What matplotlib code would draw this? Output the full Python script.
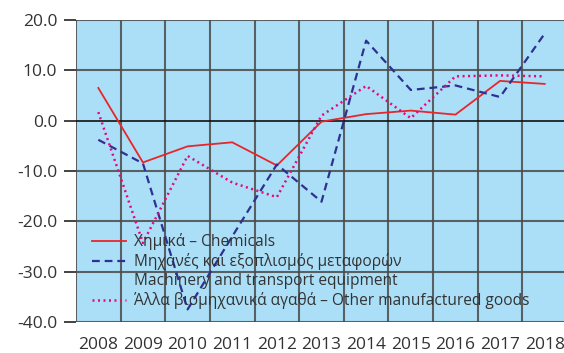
import matplotlib
matplotlib.use("Agg")
import matplotlib.pyplot as plt
from matplotlib.lines import Line2D

plt.rcParams['font.family'] = ['Open Sans', 'DejaVu Sans']

years = ['2008', '2009', '2010', '2011', '2012', '2013', '2014', '2015', '2016', '2017', '2018']
chemicals = [6.5, -8.3, -5.1, -4.3, -8.9, -0.2, 1.3, 2.0, 1.2, 7.9, 7.3]
machinery = [-3.8, -8.5, -37.5, -23.0, -8.7, -16.1, 15.9, 6.1, 7.0, 4.7, 17.3]
other_goods = [1.7, -24.3, -7.0, -12.3, -15.2, 1.0, 6.9, 0.5, 8.8, 9.0, 8.8]

label_chem = 'Χημικά – Chemicals'
label_mach_gr = 'Μηχανές και εξοπλισμός μεταφορών'
label_mach_en = 'Machinery and transport equipment'
label_other = 'Άλλα βιομηχανικά αγαθά – Other manufactured goods'

y_ticks = [20, 10, 0, -10, -20, -30, -40]

text_color = '#333333'
grid_color = '#4a4a4a'

fig = plt.figure(figsize=(5.64, 3.53), dpi=100)
ax = fig.add_axes([76 / 564, 1 - 322 / 353, 491 / 564, 302 / 353])
ax.set_facecolor('#abdff8')

x = list(range(len(years)))
ax.plot(x, chemicals, color='#e8262a', lw=1.3, zorder=3)
ax.plot(x, machinery, color='#2e3192', lw=1.6, ls=(0, (3.5, 2.2)), zorder=3)
ax.plot(x, other_goods, color='#e5087e', lw=1.8, ls=(0, (0.8, 1.4)), zorder=3)

ax.set_xlim(-0.5, len(years) - 0.5)
ax.set_ylim(-40, 20)
ax.set_yticks(y_ticks)
ax.set_yticklabels([f'{v:.1f}' for v in y_ticks])
ax.set_xticks(x)
ax.set_xticklabels(years)

# category boundaries as vertical grid lines
for b in range(len(years) + 1):
    ax.axvline(b - 0.5, color=grid_color, lw=1.5, alpha=0.85, zorder=1)
for v in y_ticks:
    ax.axhline(v, color='#111111' if v == 0 else grid_color,
               lw=1.2 if v == 0 else 1.5, alpha=1 if v == 0 else 0.85, zorder=1)

for s in ax.spines.values():
    s.set_visible(False)

ax.tick_params(axis='y', length=8.5, width=1.2, color='#222222', pad=5,
               labelsize=12.5, labelcolor=text_color)
ax.tick_params(axis='x', length=0, pad=11, labelsize=12.5, labelcolor=text_color)

handles = [
    Line2D([], [], color='#e8262a', lw=1.3),
    Line2D([], [], color='#2e3192', lw=1.6, ls=(0, (3.5, 2.2))),
    Line2D([], [], color='none'),
    Line2D([], [], color='#e5087e', lw=1.8, ls=(0, (0.8, 1.4))),
]
labels = [label_chem, label_mach_gr, label_mach_en, label_other]
leg = ax.legend(handles, labels, loc='upper left', bbox_to_anchor=(0.02, 0.315),
                frameon=False, fontsize=11.2, handlelength=2.2, handletextpad=0.5,
                labelspacing=0.2, borderaxespad=0, labelcolor=text_color)

fig.savefig('out.png', dpi=100)
